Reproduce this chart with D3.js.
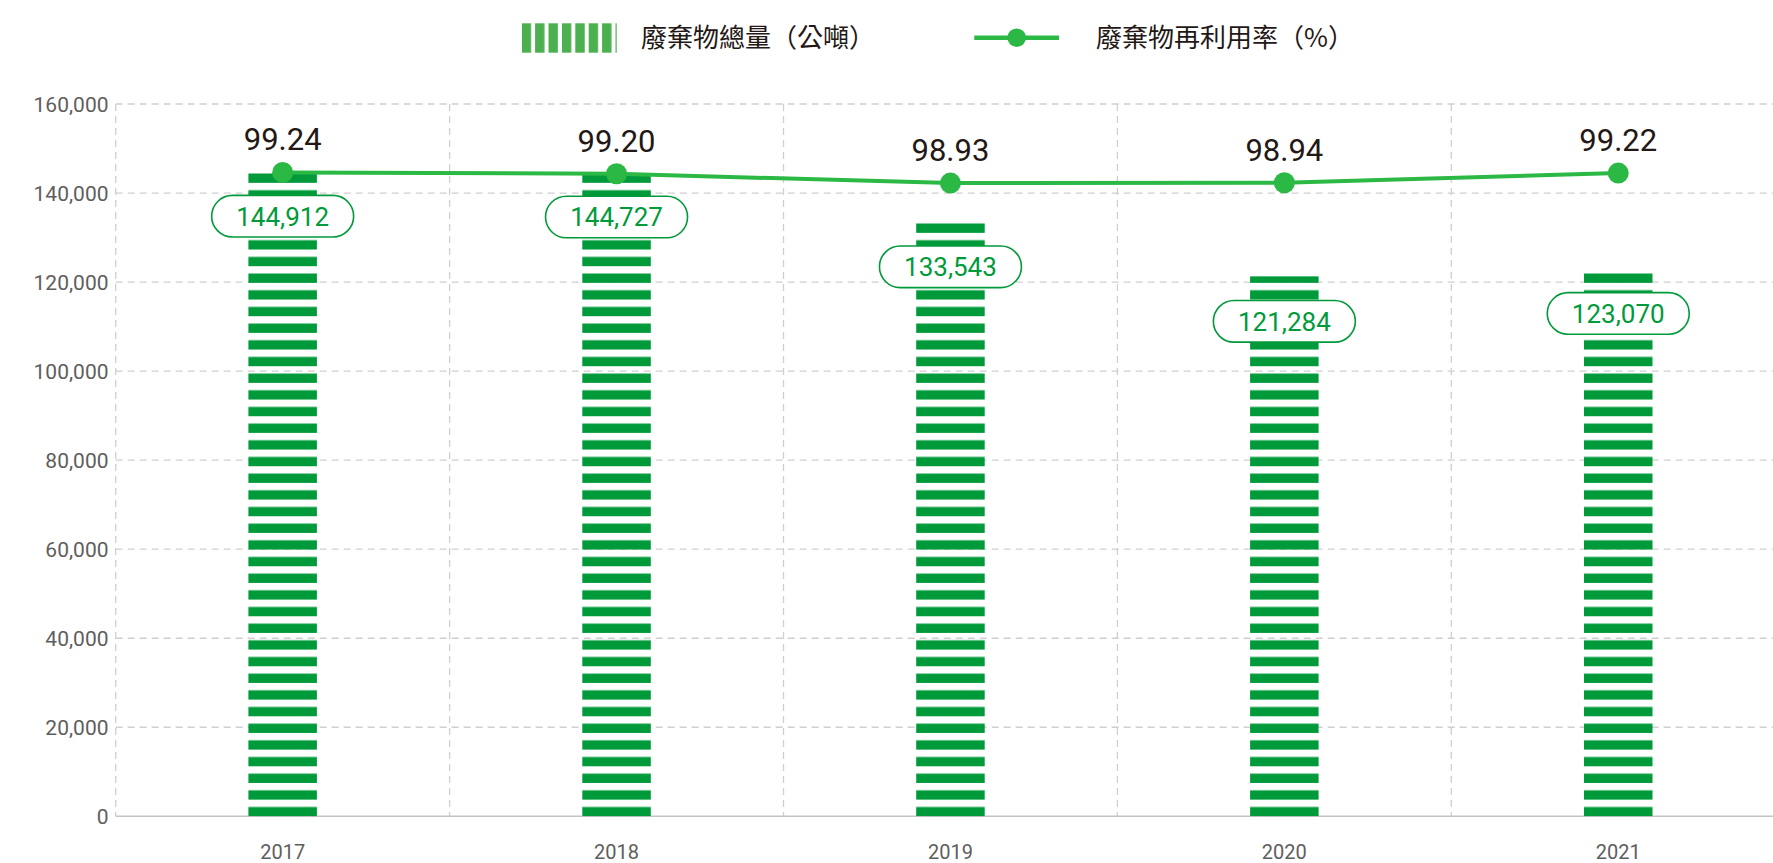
<!DOCTYPE html>
<html>
<head>
<meta charset="utf-8">
<script src="https://cdn.jsdelivr.net/npm/d3@7"></script>
<style>
  html, body { margin: 0; padding: 0; background: #ffffff; }
  svg { display: block; }
  .tick-label { font-family: Roboto, "Noto Sans", sans-serif; fill: #5f5d5d; }
  .legend-text { font-family: "Noto Sans CJK TC", "Noto Sans", sans-serif; fill: #231815; }
</style>
</head>
<body>
<div id="chart"></div>
<script>
// data
const years = ['2017', '2018', '2019', '2020', '2021'];
const wasteTotal = [144912, 144727, 133543, 121284, 123070];   // 公噸
const reuseRate = [99.24, 99.20, 98.93, 98.94, 99.22];         // %
const yTicks = [0, 20000, 40000, 60000, 80000, 100000, 120000, 140000, 160000];
const legendLabels = ['廢棄物總量（公噸）', '廢棄物再利用率（%）'];

const barGreen = '#009a3a';
const lineGreen = '#2bb845';
const legendGreen = '#4cb050';

const config = {
  width: 1773,
  height: 863,
  left: 115.7,
  right: 1785.2,
  top: 104,
  bottom: 816.3,
  barWidth: 68.5
};

const svg = d3.select('#chart').append('svg')
  .attr('width', config.width)
  .attr('height', config.height);

const x = d3.scaleBand()
  .domain(years)
  .range([config.left, config.right])
  .padding(0);

const y = d3.scaleLinear()
  .domain([0, 160000])
  .range([config.bottom, config.top]);

// hidden scale for the rate line (no axis drawn)
const y2 = d3.scaleLinear()
  .domain([98.5, 99.5])
  .range([198, 163.4]);

// stripe patterns
const defs = svg.append('defs');
const stripe = defs.append('pattern')
  .attr('id', 'bar-stripes')
  .attr('patternUnits', 'userSpaceOnUse')
  .attr('x', 0)
  .attr('y', config.bottom)
  .attr('width', 200)
  .attr('height', 16.67);
stripe.append('rect')
  .attr('x', 0).attr('y', 7.34)
  .attr('width', 200).attr('height', 9.33)
  .attr('fill', barGreen);

const legendStripe = defs.append('pattern')
  .attr('id', 'legend-stripes')
  .attr('patternUnits', 'userSpaceOnUse')
  .attr('x', 521.7)
  .attr('y', 0)
  .attr('width', 13.4)
  .attr('height', 100);
legendStripe.append('rect')
  .attr('x', 0).attr('y', 0)
  .attr('width', 9.4).attr('height', 100)
  .attr('fill', legendGreen);

// gridlines
const grid = svg.append('g').attr('class', 'grid');
grid.selectAll('.hgrid')
  .data(yTicks.filter(d => d > 0))
  .join('line')
  .attr('class', 'hgrid')
  .attr('x1', config.left)
  .attr('x2', config.width)
  .attr('y1', d => y(d))
  .attr('y2', d => y(d))
  .attr('stroke', '#cfcfcf')
  .attr('stroke-width', 1.3)
  .attr('stroke-dasharray', '7,5');

grid.selectAll('.vgrid')
  .data(years)
  .join('line')
  .attr('class', 'vgrid')
  .attr('x1', d => x(d))
  .attr('x2', d => x(d))
  .attr('y1', config.top)
  .attr('y2', config.bottom)
  .attr('stroke', '#cfcfcf')
  .attr('stroke-width', 1.3)
  .attr('stroke-dasharray', '7,5');

// x axis baseline
svg.append('line')
  .attr('x1', config.left)
  .attr('x2', config.width)
  .attr('y1', config.bottom)
  .attr('y2', config.bottom)
  .attr('stroke', '#c4c4c4')
  .attr('stroke-width', 1.5);

// y tick labels
svg.selectAll('.y-label')
  .data(yTicks)
  .join('text')
  .attr('class', 'tick-label y-label')
  .attr('x', 108.5)
  .attr('y', d => y(d))
  .attr('dy', '0.36em')
  .attr('text-anchor', 'end')
  .style('font-size', '21px')
  .text(d => d3.format(',')(d));

// x tick labels
svg.selectAll('.x-label')
  .data(years)
  .join('text')
  .attr('class', 'tick-label x-label')
  .attr('x', d => x(d) + x.bandwidth() / 2)
  .attr('y', 858.5)
  .attr('text-anchor', 'middle')
  .style('font-size', '20px')
  .text(d => d);

// bars
svg.selectAll('.bar')
  .data(years)
  .join('rect')
  .attr('class', 'bar')
  .attr('x', d => x(d) + x.bandwidth() / 2 - config.barWidth / 2)
  .attr('y', (d, i) => y(wasteTotal[i]))
  .attr('width', config.barWidth)
  .attr('height', (d, i) => config.bottom - y(wasteTotal[i]))
  .attr('fill', 'url(#bar-stripes)');

// bar value labels
const valueLabels = svg.selectAll('.value-label')
  .data(years)
  .join('g')
  .attr('class', 'value-label')
  .attr('transform', (d, i) => `translate(${x(d) + x.bandwidth() / 2},${y(wasteTotal[i]) + 45})`);

valueLabels.append('rect')
  .attr('x', -71)
  .attr('y', -20.8)
  .attr('width', 142)
  .attr('height', 41.6)
  .attr('rx', 20.8)
  .attr('fill', '#ffffff')
  .attr('stroke', barGreen)
  .attr('stroke-width', 1.6);

valueLabels.append('text')
  .attr('text-anchor', 'middle')
  .attr('dy', '0.36em')
  .style('font-family', 'Roboto, "Noto Sans", sans-serif')
  .style('font-size', '26px')
  .attr('fill', barGreen)
  .text((d, i) => d3.format(',')(wasteTotal[i]));

// rate line
const line = d3.line()
  .x(d => x(d.year) + x.bandwidth() / 2)
  .y(d => y2(d.rate));

const ratePoints = years.map((yr, i) => ({ year: yr, rate: reuseRate[i] }));

svg.append('path')
  .datum(ratePoints)
  .attr('d', line)
  .attr('fill', 'none')
  .attr('stroke', lineGreen)
  .attr('stroke-width', 4);

svg.selectAll('.rate-dot')
  .data(ratePoints)
  .join('circle')
  .attr('class', 'rate-dot')
  .attr('cx', d => x(d.year) + x.bandwidth() / 2)
  .attr('cy', d => y2(d.rate))
  .attr('r', 10.5)
  .attr('fill', lineGreen);

svg.selectAll('.rate-label')
  .data(ratePoints)
  .join('text')
  .attr('class', 'rate-label')
  .attr('x', d => x(d.year) + x.bandwidth() / 2)
  .attr('y', d => y2(d.rate) - 22)
  .attr('text-anchor', 'middle')
  .style('font-family', 'Roboto, "Noto Sans", sans-serif')
  .style('font-size', '31px')
  .attr('fill', '#231815')
  .text(d => d.rate.toFixed(2));

// legend
const legend = svg.append('g').attr('class', 'legend');
legend.append('rect')
  .attr('x', 521.7)
  .attr('y', 23.3)
  .attr('width', 95)
  .attr('height', 29.4)
  .attr('fill', 'url(#legend-stripes)');
legend.append('text')
  .attr('class', 'legend-text')
  .attr('x', 641)
  .attr('y', 38)
  .attr('dy', '0.36em')
  .style('font-size', '26px')
  .text(legendLabels[0]);

legend.append('line')
  .attr('x1', 974.3)
  .attr('x2', 1059)
  .attr('y1', 37.7)
  .attr('y2', 37.7)
  .attr('stroke', lineGreen)
  .attr('stroke-width', 4.5);
legend.append('circle')
  .attr('cx', 1016.7)
  .attr('cy', 37.7)
  .attr('r', 9.3)
  .attr('fill', lineGreen);
legend.append('text')
  .attr('class', 'legend-text')
  .attr('x', 1096)
  .attr('y', 38)
  .attr('dy', '0.36em')
  .style('font-size', '26px')
  .text(legendLabels[1]);
</script>
</body>
</html>
